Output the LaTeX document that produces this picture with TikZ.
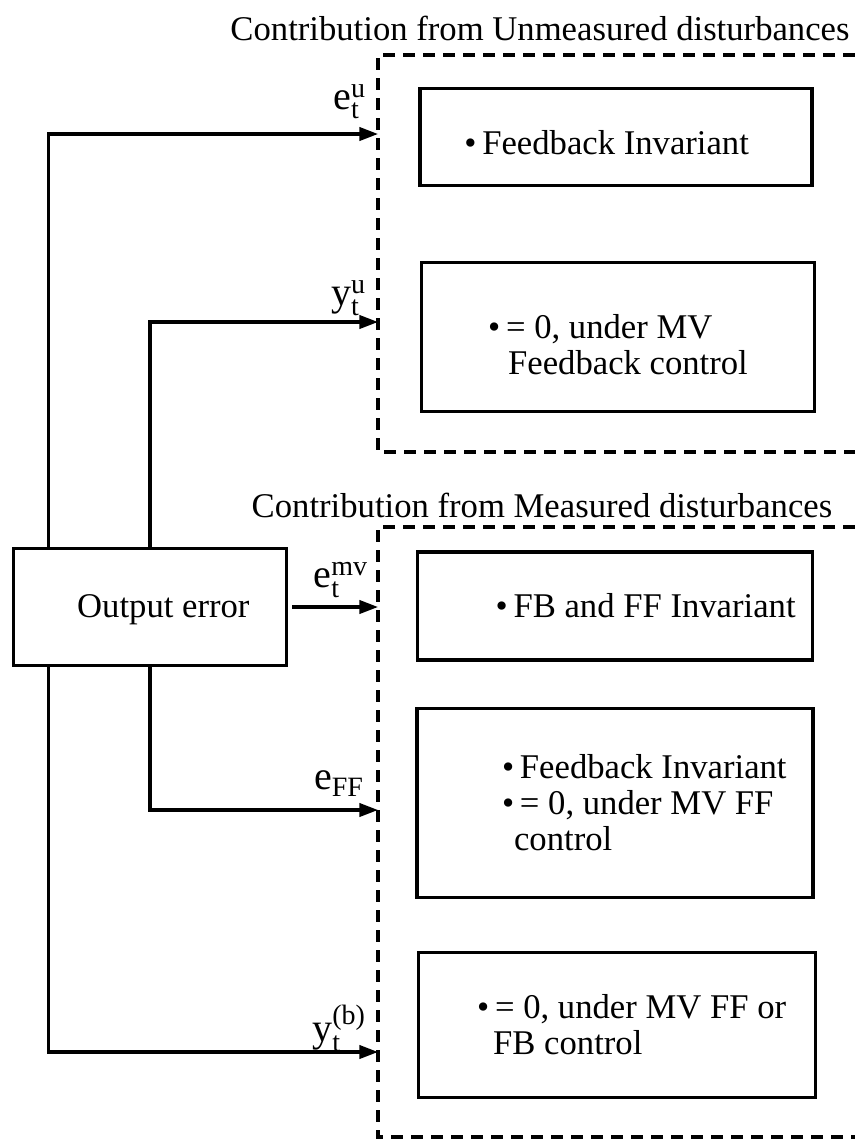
\documentclass[tikz,border=0pt]{standalone}
\usepackage{amsmath}
\usepackage{fontspec}
\setmainfont{Liberation Serif}
\usetikzlibrary{arrows.meta,positioning}

\begin{document}
\begin{tikzpicture}[x=0.75pt,y=-0.75pt,
  font=\fontsize{26}{27}\selectfont,
  block/.style={
    rectangle,draw,line width=2.3pt,inner sep=0pt
  },
  group/.style={draw,line width=2.4pt,dash pattern=on 9pt off 6pt},
  arrow/.style={-{Triangle[length=14pt,width=10pt]},line width=2.3pt},
  note/.style={align=left,inner sep=0pt},
  sig/.style={inner sep=0pt,font=\fontsize{30}{30}\selectfont}
]
\useasboundingbox (0,0) rectangle (855,1140);

% groups of contributions
\node (title-u) at (540,28) {Contribution from Unmeasured disturbances};
\node (title-m) at (542,505) {Contribution from Measured disturbances};
\draw[group] (855,55) -- (378,55) -- (378,452) -- (855,452);
\draw[group] (855,527) -- (378,527) -- (378,1137) -- (855,1137);

% blocks
\node[block,minimum width=294pt,minimum height=73pt] (fbinv) at (616,137) {};
\node[block,minimum width=295pt,minimum height=112pt] (mvfb) at (618,337) {};
\node[block,minimum width=296pt,minimum height=81pt] (fbff) at (615,606) {};
\node[block,minimum width=297pt,minimum height=142pt] (mvff) at (615,803) {};
\node[block,minimum width=298pt,minimum height=109pt] (mvfffb) at (617,1025) {};
\node[block,minimum width=205pt,minimum height=88pt] (err) at (150,607) {};

\node[note] (fbinv-txt) at ([xshift=-7pt,yshift=-4pt]fbinv.center) {\textbullet\,Feedback Invariant};
\node[note] (mvfb-txt) at ([yshift=-6pt]mvfb.center) {\textbullet\,= 0, under MV\\\hspace{15pt}Feedback control};
\node[note] (fbff-txt) at ([xshift=23pt]fbff.center) {\textbullet\,FB and FF Invariant};
\node[note] (mvff-txt) at ([xshift=22pt]mvff.center) {\textbullet\,Feedback Invariant\\\textbullet\,= 0, under MV FF\\\hspace{9pt}control};
\node[note] (mvfffb-txt) at ([xshift=11pt]mvfffb.center) {\textbullet\,= 0, under MV FF or\\\hspace{12pt}FB control};
\node[note] (err-txt) at ([xshift=10pt,yshift=-2pt]err.center) {Output error};

% inputs on the dashed border
\coordinate (in-eu) at (378,134);
\coordinate (in-yu) at (378,322);
\coordinate (in-eff) at (378,810);
\coordinate (in-yb) at (378,1052);

% connectors
\draw[arrow] ([xshift=27.75pt]err.north west) |- (in-eu);
\draw[arrow] (err.north) |- (in-yu);
\draw[arrow] ([xshift=3pt]err.east) -- (err.east -| in-yu);
\draw[arrow] (err.south) |- (in-eff);
\draw[arrow] ([xshift=27.75pt]err.south west) |- (in-yb);

\node[sig,anchor=east] (lbl-eu) at (366,102) {$\text{e}_{\text{t}}^{\text{u}}$};
\node[sig,anchor=east] (lbl-yu) at (366,298) {$\text{y}_{\text{t}}^{\text{u}}$};
\node[sig,anchor=east] (lbl-emv) at (368,580) {$\text{e}_{\text{t}}^{\text{mv}}$};
\node[sig,anchor=east] (lbl-eff) at (364,784) {$\text{e}_{\text{FF}}$};
\node[sig,anchor=east] (lbl-yb) at (366,1028) {$\text{y}_{\text{t}}^{\text{(b)}}$};

\end{tikzpicture}
\end{document}
